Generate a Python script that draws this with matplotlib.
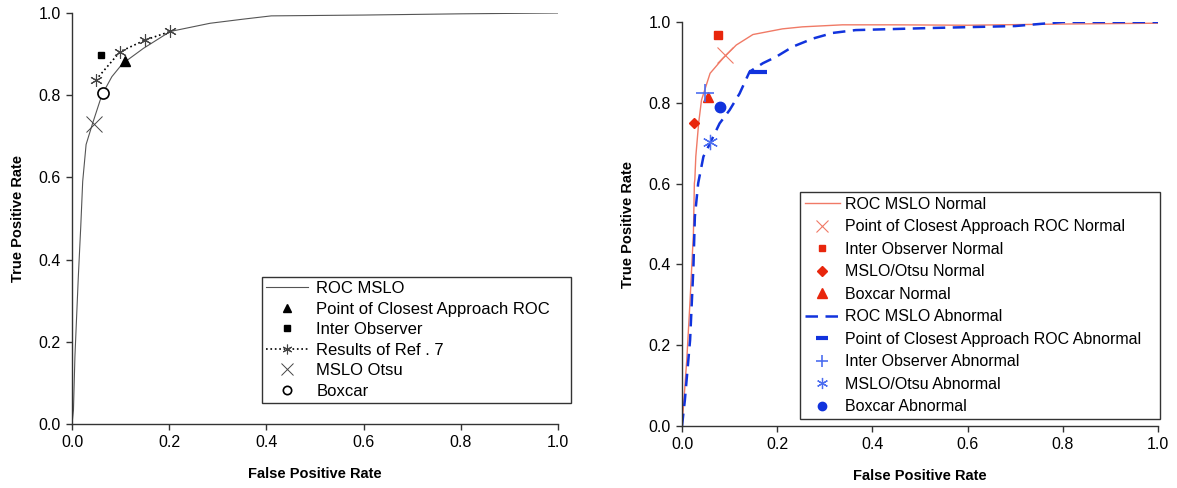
import numpy as np
import matplotlib
matplotlib.use("Agg")
import matplotlib.pyplot as plt
from matplotlib.ticker import FormatStrFormatter

plt.rcParams['font.family'] = ['Liberation Sans', 'DejaVu Sans']

# left panel data
roc_x = [0, 0.003, 0.006, 0.013, 0.018, 0.022, 0.029, 0.042, 0.058, 0.064, 0.082,
         0.102, 0.110, 0.147, 0.202, 0.284, 0.352, 0.41, 0.6, 0.8, 1.0]
roc_y = [0, 0.034, 0.164, 0.358, 0.48, 0.59, 0.68, 0.73, 0.788, 0.806, 0.845,
         0.874, 0.882, 0.914, 0.955, 0.975, 0.985, 0.993, 0.995, 0.998, 1.0]
ref7_x = [0.049, 0.099, 0.150, 0.202]
ref7_y = [0.837, 0.906, 0.934, 0.955]
closest = (0.110, 0.882)
inter_obs = (0.060, 0.898)
otsu = (0.045, 0.73)
boxcar = (0.064, 0.806)

# right panel data
norm_x = [0, 0.001, 0.010, 0.017, 0.024, 0.026, 0.027, 0.029, 0.035, 0.041, 0.059,
          0.086, 0.114, 0.149, 0.211, 0.253, 0.337, 0.449, 0.6, 0.8, 1.0]
norm_y = [0, 0.015, 0.163, 0.312, 0.477, 0.601, 0.61, 0.667, 0.75, 0.807, 0.873,
          0.910, 0.943, 0.969, 0.983, 0.988, 0.993, 0.993, 0.992, 0.995, 0.997]
abn_x = [0, 0.006, 0.017, 0.024, 0.027, 0.034, 0.045, 0.052, 0.079, 0.100, 0.121,
         0.142, 0.170, 0.198, 0.233, 0.275, 0.317, 0.365, 0.519, 0.7, 0.8, 1.0]
abn_y = [0, 0.064, 0.213, 0.394, 0.518, 0.601, 0.667, 0.683, 0.749, 0.782, 0.823,
         0.877, 0.898, 0.914, 0.939, 0.959, 0.973, 0.980, 0.985, 0.99, 1.0, 1.0]
closest_n = (0.090, 0.918)
inter_n = (0.076, 0.968)
otsu_n = (0.025, 0.751)
boxcar_n = (0.055, 0.815)
closest_a = (0.160, 0.877)
inter_a = (0.048, 0.825)
otsu_a = (0.059, 0.704)
boxcar_a = (0.079, 0.789)

red = "#e8260c"
lred = "#f07a66"
blue = "#1133dd"
lblue = "#4d6ef0"
asterisk = (6, 2, 0)

fig = plt.figure(figsize=(11.77, 4.88), dpi=100)
ax1 = fig.add_axes([72/1177, 1-424/488, (558-72)/1177, (424-13)/488])
ax2 = fig.add_axes([682/1177, 1-426/488, (1158-682)/1177, (426-22)/488])

ax1.plot(roc_x, roc_y, color="#555555", lw=0.8, label="ROC MSLO")
ax1.plot(*closest, ls="none", marker="^", color="black", ms=7, label="Point of Closest Approach ROC")
ax1.plot(*inter_obs, ls="none", marker="s", color="black", ms=5, label="Inter Observer")
ax1.plot(ref7_x, ref7_y, ls=":", color="black", lw=1.2, marker=asterisk, ms=9,
         mew=0.8, mec="#444444", label="Results of Ref . 7")
ax1.plot(*otsu, ls="none", marker="x", color="#444444", ms=11, mew=0.7, label="MSLO Otsu")
ax1.plot(*boxcar, ls="none", marker="o", mfc="white", mec="black", ms=8, mew=1.2, label="Boxcar")

ax2.plot(norm_x, norm_y, color=lred, lw=1.0, label="ROC MSLO Normal")
ax2.plot(*closest_n, ls="none", marker="x", color=lred, ms=11, mew=0.8,
         label="Point of Closest Approach ROC Normal")
ax2.plot(*inter_n, ls="none", marker="s", color=red, ms=5.5, label="Inter Observer Normal")
ax2.plot(*otsu_n, ls="none", marker="D", color=red, ms=5, label="MSLO/Otsu Normal")
ax2.plot(*boxcar_n, ls="none", marker="^", color=red, ms=7, label="Boxcar Normal")
ax2.plot(abn_x, abn_y, color=blue, lw=1.8, ls=(0, (5, 3)), label="ROC MSLO Abnormal")
ax2.plot(*closest_a, ls="none", marker="_", color=blue, ms=13, mew=3,
         label="Point of Closest Approach ROC Abnormal")
ax2.plot(*inter_a, ls="none", marker="+", color=lblue, ms=13, mew=1.2, label="Inter Observer Abnormal")
ax2.plot(*otsu_a, ls="none", marker=asterisk, color=lblue, ms=11, mew=0.9, label="MSLO/Otsu Abnormal")
ax2.plot(*boxcar_a, ls="none", marker="o", color=blue, ms=7.5, label="Boxcar Abnormal")

for ax in (ax1, ax2):
    ax.set_xlim(0, 1)
    ax.set_ylim(0, 1)
    ax.set_xticks(np.arange(0, 1.01, 0.2))
    ax.set_yticks(np.arange(0, 1.01, 0.2))
    ax.xaxis.set_major_formatter(FormatStrFormatter("%.1f"))
    ax.yaxis.set_major_formatter(FormatStrFormatter("%.1f"))
    ax.spines["top"].set_visible(False)
    ax.spines["right"].set_visible(False)
    for s in ("left", "bottom"):
        ax.spines[s].set_color("#333333")
        ax.spines[s].set_linewidth(1.0)
    ax.tick_params(direction="out", length=4, width=1, color="#333333", labelsize=11.5, pad=4)
    ax.set_xlabel("False Positive Rate", fontsize=10.5, fontweight="bold", labelpad=12)
    ax.set_ylabel("True Positive Rate", fontsize=10.5, fontweight="bold", labelpad=10)

leg1 = ax1.legend(loc="upper left", bbox_to_anchor=(262/1177, 1-402/488, (571-262)/1177, (402-277)/488),
                  bbox_transform=fig.transFigure, mode="expand", fontsize=12, frameon=True,
                  fancybox=False, edgecolor="black", borderaxespad=0, handlelength=2.5,
                  handletextpad=0.5, labelspacing=0.33, borderpad=0.25)
leg1.get_frame().set_linewidth(1.0)
for h, s in zip(leg1.legend_handles, [0, 5.5, 5, 7, 9, 6]):
    h.set_markersize(s)

leg2 = ax2.legend(loc="upper left", bbox_to_anchor=(800/1177, 1-415/488, (1160-800)/1177, (415-192)/488),
                  bbox_transform=fig.transFigure, mode="expand", fontsize=11.5, frameon=True,
                  fancybox=False, edgecolor="black", borderaxespad=0, handlelength=2.2,
                  handletextpad=0.3, labelspacing=0.47, borderpad=0.3)
leg2.get_frame().set_linewidth(1.0)
for h, s in zip(leg2.legend_handles, [0, 8, 5, 5, 7, 0, 8, 9, 8, 6]):
    h.set_markersize(s)

plt.savefig("out.png", dpi=100)
plt.close()
